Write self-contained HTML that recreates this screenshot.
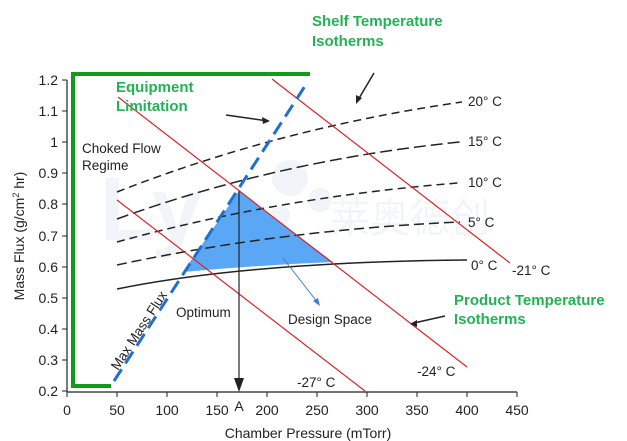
<!DOCTYPE html>
<html><head><meta charset="utf-8"><style>
body{margin:0;background:#fff;}
svg{display:block;font-family:"Liberation Sans",Arial,sans-serif;}
</style></head><body>
<svg width="627" height="441" viewBox="0 0 627 441" xmlns="http://www.w3.org/2000/svg">
<rect width="627" height="441" fill="#fff"/>
<g opacity="0.08" fill="#5a7fb0">
<text x="100" y="240" font-size="90" font-weight="bold">Ly</text>
<circle cx="290" cy="178" r="18"/><circle cx="320" cy="200" r="12"/><circle cx="280" cy="215" r="10"/>
<text x="330" y="232" font-size="40" font-family="Noto Sans CJK SC,sans-serif">莱奥德创</text>
<text x="205" y="267" font-size="16" letter-spacing="3">INNOVATION</text>
</g>
<path d="M239,191 L333,262 Q260,265 183,272 Z" fill="#5aa8f5"/>
<g stroke="#222" stroke-width="1.2" fill="none">
<line x1="67" y1="80" x2="67" y2="392"/>
<line x1="67" y1="392" x2="517" y2="392"/>
</g>
<g stroke="#222" stroke-width="1">
<line x1="62" y1="80" x2="67" y2="80"/><line x1="62" y1="111" x2="67" y2="111"/><line x1="62" y1="142" x2="67" y2="142"/><line x1="62" y1="173" x2="67" y2="173"/><line x1="62" y1="204" x2="67" y2="204"/><line x1="62" y1="236" x2="67" y2="236"/><line x1="62" y1="267" x2="67" y2="267"/><line x1="62" y1="298" x2="67" y2="298"/><line x1="62" y1="329" x2="67" y2="329"/><line x1="62" y1="360" x2="67" y2="360"/><line x1="62" y1="391" x2="67" y2="391"/>
<line x1="67" y1="392" x2="67" y2="397"/><line x1="117" y1="392" x2="117" y2="397"/><line x1="167" y1="392" x2="167" y2="397"/><line x1="217" y1="392" x2="217" y2="397"/><line x1="267" y1="392" x2="267" y2="397"/><line x1="317" y1="392" x2="317" y2="397"/><line x1="367" y1="392" x2="367" y2="397"/><line x1="417" y1="392" x2="417" y2="397"/><line x1="467" y1="392" x2="467" y2="397"/><line x1="517" y1="392" x2="517" y2="397"/>
</g>
<g font-size="14" fill="#222" text-anchor="end">
<text x="58" y="85">1.2</text><text x="58" y="116">1.1</text><text x="58" y="147">1</text><text x="58" y="178">0.9</text><text x="58" y="209">0.8</text><text x="58" y="241">0.7</text><text x="58" y="272">0.6</text><text x="58" y="303">0.5</text><text x="58" y="334">0.4</text><text x="58" y="365">0.3</text><text x="58" y="396">0.2</text>
</g>
<g font-size="14" fill="#222" text-anchor="middle">
<text x="67" y="415">0</text><text x="117" y="415">50</text><text x="167" y="415">100</text><text x="217" y="415">150</text><text x="267" y="415">200</text><text x="317" y="415">250</text><text x="367" y="415">300</text><text x="417" y="415">350</text><text x="467" y="415">400</text><text x="517" y="415">450</text>
<text x="239" y="411">A</text>
<text x="308" y="438">Chamber Pressure (mTorr)</text>
</g>
<text transform="translate(24,236) rotate(-90)" font-size="14" fill="#222" text-anchor="middle">Mass Flux (g/cm<tspan font-size="9" dy="-5">2</tspan><tspan dy="5"> hr)</tspan></text>
<path d="M310,74 L73,74 L73,386 L111,386" stroke="#129a1a" stroke-width="4" fill="none"/>
<g fill="none" stroke="#222" stroke-width="1.5">
<path d="M117,192 Q280,128 462,102" stroke-dasharray="8,5"/>
<path d="M117,219 Q280,160 460,142" stroke-dasharray="12,5"/>
<path d="M117,242 Q280,197 458,183" stroke-dasharray="8,5"/>
<path d="M117,265 Q280,230 460,222" stroke-dasharray="10,5"/>
<path d="M117,289 Q250,262 467,260"/>
</g>
<g stroke="#d22" stroke-width="1.2">
<line x1="117" y1="200" x2="365" y2="391"/>
<line x1="118" y1="97" x2="467" y2="367"/>
<line x1="272" y1="79" x2="510" y2="263"/>
</g>
<line x1="114" y1="381" x2="307" y2="83" stroke="#1f6fd0" stroke-width="3" stroke-dasharray="14,7"/>
<line x1="239" y1="191" x2="239" y2="382" stroke="#222" stroke-width="1.2"/>
<path d="M234,378 L244,378 L239,392 Z" fill="#222"/>
<g stroke="#222" stroke-width="1.5">
<line x1="226" y1="115" x2="268" y2="121"/>
<line x1="374" y1="73" x2="358" y2="100"/>
<line x1="445" y1="316" x2="414" y2="323"/>
</g>
<path d="M270,121 L262,117 L263,124 Z" fill="#222"/>
<path d="M356,104 L356,95 L362,98 Z" fill="#222"/>
<path d="M410,324 L417,320 L417,327 Z" fill="#222"/>
<line x1="283" y1="258" x2="318" y2="303" stroke="#3a7fd0" stroke-width="1"/>
<path d="M320,306 L313,301 L318,298 Z" fill="#3a7fd0"/>
<g font-size="13.5" fill="#222">
<text x="82" y="153">Choked Flow</text><text x="82" y="170">Regime</text>
<text x="176" y="317">Optimum</text>
<text x="288" y="324">Design Space</text>
<text x="468" y="106">20° C</text><text x="468" y="146">15° C</text><text x="468" y="187">10° C</text><text x="468" y="227">5° C</text><text x="471" y="270">0° C</text>
<text x="512" y="275">-21° C</text><text x="417" y="376">-24° C</text><text x="297" y="387">-27° C</text>
<text transform="translate(118,371) rotate(-57)">Max Mass Flux</text>
</g>
<g font-size="15" font-weight="bold" fill="#22b355">
<text x="312" y="26">Shelf Temperature</text><text x="312" y="46">Isotherms</text>
<text x="116" y="92">Equipment</text><text x="116" y="111">Limitation</text>
<text x="454" y="305">Product Temperature</text><text x="454" y="324">Isotherms</text>
</g>
</svg>
</body></html>
